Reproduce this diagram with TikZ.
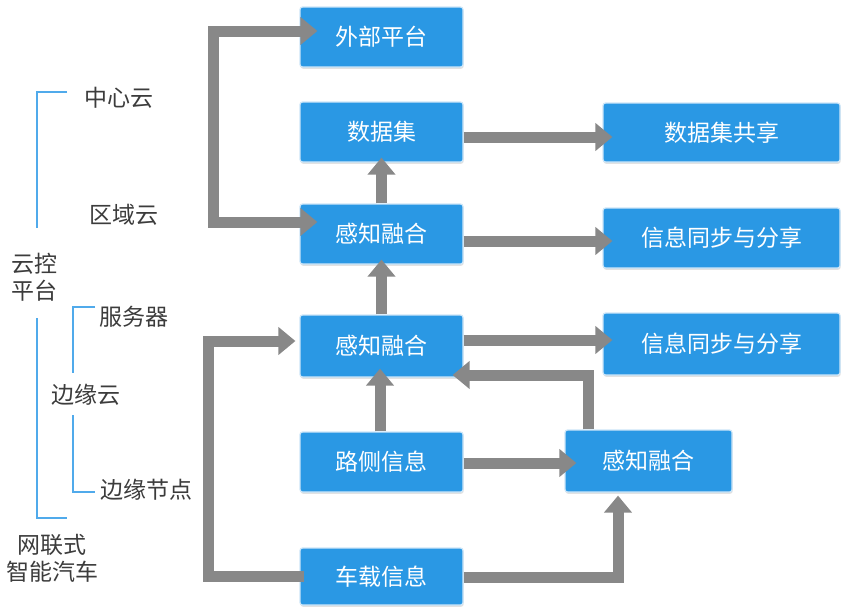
\documentclass[tikz,border=0pt]{standalone}
\usepackage{fontspec}
\setmainfont{Noto Sans CJK SC}
\usetikzlibrary{arrows.meta,calc,shadows}
\definecolor{boxblue}{RGB}{42,152,228}
\definecolor{boxedge}{RGB}{205,230,248}
\definecolor{arrgray}{RGB}{136,136,136}
\definecolor{lineblue}{RGB}{80,170,235}
\definecolor{txtgray}{RGB}{60,60,60}
\begin{document}
\begin{tikzpicture}[x=1pt,y=-1pt,
  box/.style={fill=boxblue, draw=boxedge, line width=1.2pt, rounded corners=2.5pt,
    text=white, font=\fontsize{23}{27}\selectfont, inner sep=0pt,
    minimum width=163pt, minimum height=60pt,
    drop shadow={shadow xshift=0.6pt, shadow yshift=-1.8pt, fill=black!22}},
  arr/.style={draw=arrgray, line width=11pt, -{Triangle[width=27pt,length=17pt]}},
  arrboth/.style={draw=arrgray, line width=11pt, {Triangle[width=27pt,length=17pt]}-{Triangle[width=27pt,length=17pt]}},
  lab/.style={text=txtgray, font=\fontsize{23}{27}\selectfont, inner sep=0pt, align=center},
  brk/.style={draw=lineblue, line width=2.5pt}]
\useasboundingbox[fill=white] (0,0) rectangle (847,616);

% boxes
\node[box] (ext) at (381.5,37) {外部平台};
\node[box] (ds) at (381.5,132) {数据集};
\node[box] (f1) at (381.5,234) {感知融合};
\node[box, minimum height=62pt] (f2) at (381.5,346) {感知融合};
\node[box] (rs) at (381.5,462) {路侧信息};
\node[box, minimum height=57pt] (vi) at (381.5,576.5) {车载信息};
\node[box, minimum width=237pt, minimum height=59pt] (dss) at (721.5,132.5) {数据集共享};
\node[box, minimum width=237pt] (s1) at (721.5,238) {信息同步与分享};
\node[box, minimum width=237pt, minimum height=62pt] (s2) at (721.5,344) {信息同步与分享};
\node[box, minimum width=167pt, minimum height=62pt] (fR) at (648.5,461) {感知融合};

% arrows
\draw[arr] (f1.north) -- ($(ds.south)+(0,-5)$);
\draw[arr] (f2.north) -- ($(f1.south)+(0,-5)$);
\draw[arr] ($(rs.north)+(-1.5,0)$) -- ($(f2.south)+(-1.5,-9)$);
\draw[arr] ($(ds.east)+(0,5)$) -- ($(dss.west)+(10,4.5)$);
\draw[arr] ($(f1.east)+(0,7)$) -- ($(s1.west)+(10,3)$);
\draw[arr] ($(f2.east)+(0,-6)$) -- ($(s2.west)+(10,-4)$);
\draw[arr] ($(fR.north)+(-60.5,0)$) |- ($(f2.east)+(-11,29)$);
\draw[arr] ($(rs.east)+(0,1)$) -- ($(fR.west)+(12,2)$);
\draw[arr] ($(vi.east)+(0,0.5)$) -| ($(fR.south)+(-30.5,3)$);
\draw[arrboth] ($(f1.west)+(18,-12)$) -- ++(-104,0) |- ($(ext.west)+(18,-6)$);
\draw[arr] ($(vi.west)+(5,0)$) -- ++(-96,0) |- ($(f2.west)+(-4,-5)$);

% left labels
\node[lab] (zx) at (119,98) {中心云};
\node[lab] (qy) at (124,215) {区域云};
\node[lab] (yk) at (35,277.5) {云控\\平台};
\node[lab] (fw) at (134,317) {服务器};
\node[lab] (by) at (86,395) {边缘云};
\node[lab] (bj) at (146,490) {边缘节点};
\node[lab] (wl) at (52,558.5) {网联式\\智能汽车};

% brackets
\draw[brk] (67,92) -- (37,92) -- (37,228);
\draw[brk] (37,318) -- (37,518) -- (67,518);
\draw[brk] (95,307) -- (73,307) -- (73,373);
\draw[brk] (73,415) -- (73,492) -- (95,492);
\end{tikzpicture}
\end{document}
